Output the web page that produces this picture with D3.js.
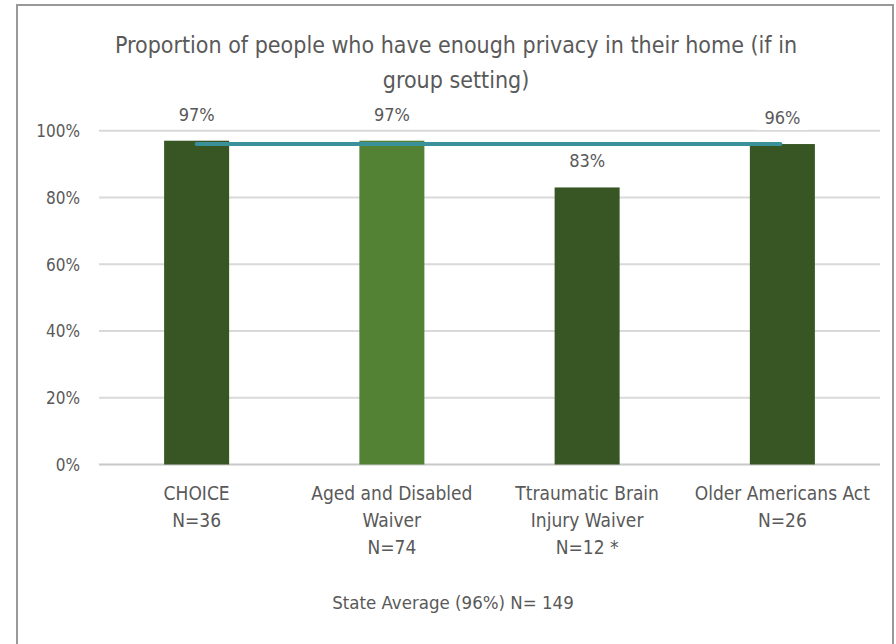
<!DOCTYPE html>
<html><head><meta charset="utf-8">
<script src="https://cdn.jsdelivr.net/npm/d3@7"></script>
<style>
html,body{margin:0;padding:0;background:#fff;}
svg text{font-family:"Liberation Sans Narrow","DejaVu Sans Condensed","Open Sans",sans-serif;fill:#595959;}
</style></head>
<body>
<svg id="chart" width="896" height="644"></svg>
<script>
const categories = [
  ["CHOICE", "N=36"],
  ["Aged and Disabled", "Waiver", "N=74"],
  ["Ttraumatic Brain", "Injury Waiver", "N=12 *"],
  ["Older Americans Act", "N=26"]
];
const values = [0.97, 0.97, 0.83, 0.96];
const valueLabels = ["97%", "97%", "83%", "96%"];
const barColors = ["#375623", "#548235", "#375623", "#375623"];
const stateAverage = 0.96;
const yTicks = [0, 0.2, 0.4, 0.6, 0.8, 1.0];
const titleLines = ["Proportion of people who have enough privacy in their home (if in", "group setting)"];
const footnote = "State Average (96%) N= 149";

const svg = d3.select("#chart");
// outer border
svg.append("rect").attr("x",17).attr("y",5).attr("width",876).attr("height",660)
  .attr("fill","#fff").attr("stroke","#999").attr("stroke-width",2);

const ids = categories.map((c,i)=>"c"+i);
const x = d3.scaleBand().domain(ids).range([99, 880]).padding(0);
const y = d3.scaleLinear().domain([0,1]).range([464.5, 130.7]);
const barW = x.bandwidth()*0.333;

// gridlines
svg.append("g").selectAll("line").data(yTicks).join("line")
  .attr("x1",99).attr("x2",880)
  .attr("y1",d=>y(d)).attr("y2",d=>y(d))
  .attr("stroke",d=>d===0?"#c8c8c8":"#d9d9d9").attr("stroke-width",2);

// y axis labels
const yAxis = d3.axisLeft(y).tickValues(yTicks).tickFormat(d3.format(".0%")).tickSize(0).tickPadding(0);
const ga = svg.append("g").attr("transform","translate(80,0)").call(yAxis);
ga.select(".domain").remove();
ga.selectAll("text").style("font-size","17px").attr("fill","#595959").attr("dy","0.35em");

// bars
svg.append("g").selectAll("rect").data(values).join("rect")
  .attr("x",(d,i)=>x(ids[i])+x.bandwidth()/2-barW/2)
  .attr("width",barW)
  .attr("y",d=>y(d)).attr("height",d=>y(0)-y(d))
  .attr("fill",(d,i)=>barColors[i]);

// average line
svg.append("line")
  .attr("x1",x(ids[0])+x.bandwidth()/2)
  .attr("x2",x(ids[ids.length-1])+x.bandwidth()/2-2)
  .attr("y1",y(stateAverage)).attr("y2",y(stateAverage))
  .attr("stroke","#3a9199").attr("stroke-width",4).attr("stroke-linecap","round");

// value labels with white backgrounds
const lg = svg.append("g");
values.forEach((v,i)=>{
  const cx = x(ids[i])+x.bandwidth()/2;
  const t = lg.append("text").attr("x",cx).attr("y",y(v)-20)
    .attr("text-anchor","middle").style("font-size","18px").text(valueLabels[i]);
  const bb = t.node().getBBox();
  lg.insert("rect","text").attr("x",bb.x-8).attr("y",bb.y-2).attr("width",bb.width+16).attr("height",bb.height+4).attr("fill","#fff");
});

// category labels
const cg = svg.append("g");
categories.forEach((lines,i)=>{
  const cx = x(ids[i])+x.bandwidth()/2;
  const t = cg.append("text").attr("text-anchor","middle").style("font-size","19px");
  lines.forEach((ln,j)=>{
    t.append("tspan").attr("x",cx).attr("y",500+j*27).text(ln);
  });
});

// title
const tt = svg.append("text").attr("text-anchor","middle").style("font-size","23px");
titleLines.forEach((ln,j)=>tt.append("tspan").attr("x",456).attr("y",53+j*35).text(ln));

// footnote
svg.append("text").attr("x",453).attr("y",609).attr("text-anchor","middle").style("font-size","18.5px").text(footnote);
</script>
</body></html>
